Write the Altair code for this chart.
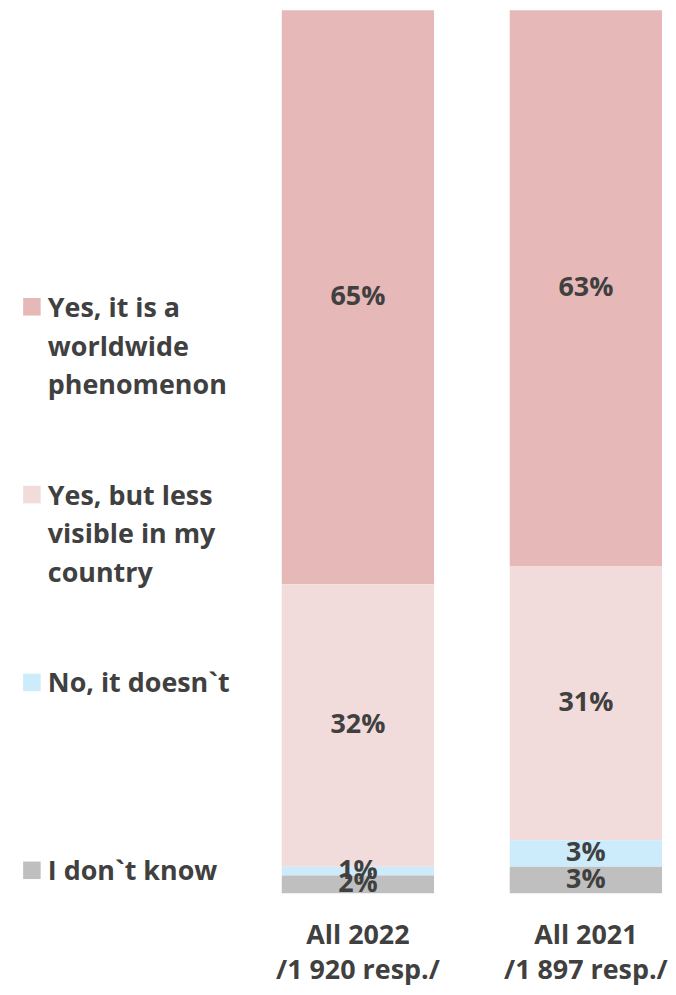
import altair as alt
import pandas as pd

# ---- data ----
groups = ["All 2022|/1 920 resp./", "All 2021|/1 897 resp./"]
categories = [
    "Yes, it is a worldwide phenomenon",
    "Yes, but less visible in my country",
    "No, it doesn`t",
    "I don`t know",
]
legend_text = [
    "Yes, it is a\nworldwide\nphenomenon",
    "Yes, but less\nvisible in my\ncountry",
    "No, it doesn`t",
    "I don`t know",
]
stack_order = [3, 2, 1, 0]  # bottom = 0
values_2022 = [65, 32, 1, 2]
values_2021 = [63, 31, 3, 3]
colors = ["#E6B8B7", "#F2DCDB", "#CCECFC", "#BFBFBF"]

FONT = "Open Sans"
FS = 27
TXT = "#404040"

rows = []
for g, vals in zip(groups, [values_2022, values_2021]):
    for c, o, v in zip(categories, stack_order, vals):
        rows.append({"group": g, "category": c, "order": o, "value": v})
df = pd.DataFrame(rows)

leg = pd.DataFrame({"category": categories, "label": legend_text, "pos": stack_order})

color_scale = alt.Scale(domain=categories, range=colors)

base = alt.Chart(df).transform_stack(
    stack="value", groupby=["group"], as_=["v0", "v1"],
    sort=[alt.SortField("order", order="ascending")]
).transform_calculate(mid="(datum.v0 + datum.v1) / 2",
                      lab="datum.value + '%'")

x_enc = alt.X("group:N", sort=groups, title=None,
              scale=alt.Scale(paddingInner=0.332, paddingOuter=0.0306, align=0.786),
              axis=alt.Axis(labelAngle=0, domain=False, ticks=False,
                            labelExpr="split(datum.label, '|')",
                            labelFont=FONT, labelFontSize=FS,
                            labelFontWeight="bold", labelColor=TXT,
                            labelLineHeight=35, labelPadding=30))
y_scale = alt.Scale(domain=[0, 100])

H = 887

bars = base.mark_bar().encode(
    x=x_enc,
    y=alt.Y("v0:Q", scale=y_scale, axis=None),
    y2="v1:Q",
    color=alt.Color("category:N", scale=color_scale, legend=None),
)
labels = base.mark_text(font=FONT, fontSize=FS, fontWeight="bold", color=TXT,
                        baseline="middle").encode(
    x=alt.X("group:N", sort=groups),
    y=alt.Y("mid:Q", scale=y_scale),
    text="lab:N",
)
barchart = alt.layer(bars, labels).properties(width=396, height=H)

leg_y = alt.Y("pos:Q", scale=alt.Scale(domain=[-0.1219, 4.5787]), axis=None)
leg_sq = alt.Chart(leg).mark_square(size=310, opacity=1).encode(
    x=alt.value(24), y=leg_y,
    color=alt.Color("category:N", scale=color_scale, legend=None),
)
leg_tx = alt.Chart(leg).mark_text(font=FONT, fontSize=FS, fontWeight="bold",
                                  color=TXT, align="left", baseline="alphabetic",
                                  dy=10, lineBreak="\n", lineHeight=39).encode(
    x=alt.value(40), y=leg_y, text="label:N",
)
legend = alt.layer(leg_sq, leg_tx).properties(width=250, height=H)

chart = alt.hconcat(legend, barchart, spacing=14).properties(
    padding=0
).configure_view(stroke=None)

chart.save("out.html", embed_options={"renderer": "svg", "actions": False})
